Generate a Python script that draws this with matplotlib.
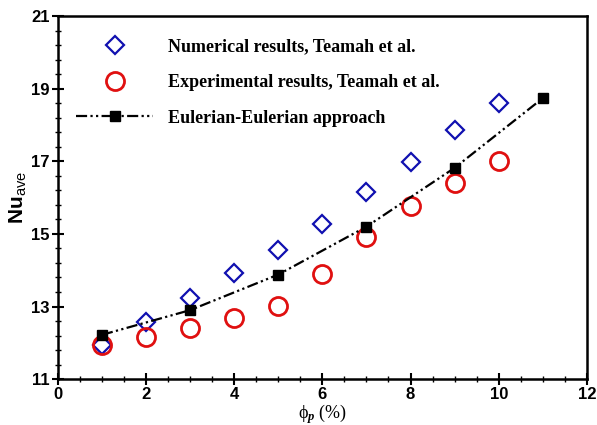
import numpy as np
import matplotlib
matplotlib.use("Agg")
import matplotlib.pyplot as plt
from matplotlib.ticker import MultipleLocator

plt.rcParams['mathtext.fontset'] = 'custom'
plt.rcParams['mathtext.rm'] = 'Liberation Serif'
plt.rcParams['mathtext.it'] = 'Liberation Serif:italic:bold'
plt.rcParams['mathtext.bf'] = 'Liberation Sans:bold'
plt.rcParams['mathtext.sf'] = 'Liberation Sans'

# data
phi_num = [1, 2, 3, 4, 5, 6, 7, 8, 9, 10]
nu_num = [11.95, 12.58, 13.24, 13.92, 14.55, 15.27, 16.16, 16.98, 17.85, 18.6]

phi_exp = [1, 2, 3, 4, 5, 6, 7, 8, 9, 10]
nu_exp = [11.95, 12.15, 12.42, 12.69, 13.02, 13.9, 14.92, 15.77, 16.4, 17.0]

phi_ee = [1, 3, 5, 7, 9, 11]
nu_ee = [12.22, 12.9, 13.88, 15.2, 16.82, 18.74]

fig = plt.figure(figsize=(5.97, 4.25), dpi=100)
ax = fig.add_axes([0.097, 0.108, 0.886, 0.854])

ax.plot(phi_num, nu_num, linestyle='none', marker='D', markersize=9,
        markerfacecolor='none', markeredgecolor='#1010b0', markeredgewidth=1.6,
        label='Numerical results, Teamah et al.')
ax.plot(phi_exp, nu_exp, linestyle='none', marker='o', markersize=13,
        markerfacecolor='none', markeredgecolor='#e01010', markeredgewidth=2,
        label='Experimental results, Teamah et al.')
ax.plot(phi_ee, nu_ee, color='black', linewidth=1.6,
        dashes=[5, 1.5, 1, 1.5, 1, 1.5], marker='s', markersize=7,
        markerfacecolor='black', markeredgecolor='black',
        label='Eulerian-Eulerian approach')

ax.set_xlim(0, 12)
ax.set_ylim(11, 21)
ax.xaxis.set_major_locator(MultipleLocator(2))
ax.xaxis.set_minor_locator(MultipleLocator(0.5))
ax.yaxis.set_major_locator(MultipleLocator(2, offset=1))
ax.yaxis.set_minor_locator(MultipleLocator(0.4, offset=0.2))
ax.tick_params(which='major', direction='inout', length=8, width=1.5, pad=2)
ax.tick_params(which='minor', direction='inout', length=5, width=1)
for sp in ax.spines.values():
    sp.set_linewidth(1.8)

for lab in ax.get_xticklabels() + ax.get_yticklabels():
    lab.set_fontfamily('Liberation Sans')
    lab.set_fontweight('bold')
    lab.set_fontsize(12)

ax.set_xlabel(r'$\mathrm{\phi}_{p}$ (%)', fontfamily='Liberation Serif',
              fontsize=13, labelpad=0)
ax.set_ylabel(r'$\mathbf{Nu}_{\mathsf{ave}}$', fontsize=15, labelpad=2)

ax.legend(loc='upper left', bbox_to_anchor=(0.01, 0.975), frameon=False,
          prop={'family': 'Liberation Serif', 'weight': 'bold', 'size': 13},
          handlelength=4.3, handletextpad=0.8, labelspacing=1.05,
          borderaxespad=0.3)

fig.savefig('out.png', dpi=100)
